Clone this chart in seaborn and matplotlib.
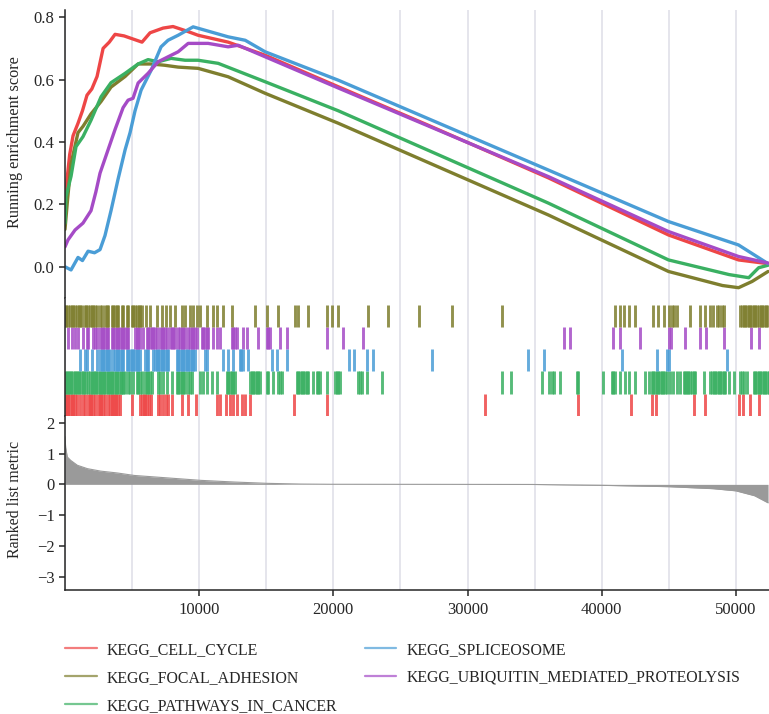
import numpy as np
import pandas as pd
import matplotlib
matplotlib.use("Agg")
import matplotlib.pyplot as plt
import seaborn as sns
from matplotlib.lines import Line2D
from matplotlib.ticker import MultipleLocator

# ~~~~~~~~~~~~~ data ~~~~~~~~~~~~~
gene_sets = ['KEGG_CELL_CYCLE', 'KEGG_FOCAL_ADHESION', 'KEGG_PATHWAYS_IN_CANCER',
             'KEGG_SPLICEOSOME', 'KEGG_UBIQUITIN_MEDIATED_PROTEOLYSIS']
set_colors = ['#EE4646', '#7E7E2E', '#3AB062', '#4A9DD6', '#A54BC6']

# running enrichment score, sampled along the ranked list
cell_cycle_rank = [0, 150, 350, 600, 970, 1300, 1640, 2000, 2390, 2840, 3300, 3730, 4400, 5070, 5740,
                   6340, 7310, 8050, 9100, 9920, 12160, 14920, 20370, 27000, 36030, 44980, 50200, 52400]
cell_cycle_es = [0.16, 0.28, 0.36, 0.42, 0.46, 0.50, 0.55, 0.57, 0.61, 0.70, 0.72, 0.745, 0.74, 0.73, 0.72,
                 0.75, 0.765, 0.77, 0.755, 0.742, 0.72, 0.678, 0.577, 0.455, 0.285, 0.102, 0.022, 0.01]

focal_rank = [0, 200, 450, 970, 1340, 1940, 2690, 3430, 4480, 5450, 6420, 7410, 8430, 9920, 12160,
              14920, 20370, 36030, 44980, 49000, 50200, 51210, 52400]
focal_es = [0.12, 0.22, 0.33, 0.43, 0.45, 0.49, 0.53, 0.576, 0.61, 0.65, 0.65, 0.646, 0.64, 0.636, 0.609,
            0.556, 0.46, 0.166, -0.015, -0.06, -0.067, -0.047, -0.015]

cancer_rank = [0, 70, 450, 820, 1340, 1940, 2690, 3430, 4480, 5450, 6190, 6940, 7900, 8950, 9920, 11420,
               14920, 20370, 36030, 44980, 49500, 50960, 51700, 52400]
cancer_es = [0.14, 0.225, 0.29, 0.385, 0.417, 0.47, 0.545, 0.59, 0.62, 0.65, 0.664, 0.657, 0.668, 0.662,
             0.662, 0.652, 0.593, 0.50, 0.204, 0.022, -0.025, -0.035, -0.003, 0.005]

splice_rank = [0, 450, 970, 1300, 1720, 2200, 2610, 2980, 3430, 3950, 4480, 4850, 5220, 5670, 6420, 7160,
               7680, 8430, 9550, 12160, 13430, 14920, 20370, 36030, 44980, 50200, 52400]
splice_es = [0.0, -0.01, 0.03, 0.02, 0.05, 0.045, 0.055, 0.10, 0.18, 0.28, 0.375, 0.43, 0.50, 0.566, 0.63,
             0.705, 0.726, 0.742, 0.769, 0.737, 0.726, 0.689, 0.598, 0.31, 0.145, 0.07, 0.01]

ubiq_rank = [0, 220, 750, 1340, 1940, 2300, 2610, 3210, 3730, 4330, 4700, 5070, 5450, 6190, 6940, 7680,
             8430, 9180, 10670, 12160, 12910, 14920, 20370, 36030, 44980, 50200, 52400]
ubiq_es = [0.064, 0.086, 0.118, 0.14, 0.18, 0.24, 0.30, 0.375, 0.44, 0.51, 0.534, 0.54, 0.589, 0.62, 0.657,
           0.673, 0.689, 0.716, 0.716, 0.705, 0.71, 0.673, 0.573, 0.289, 0.113, 0.033, 0.012]

# positions of gene set members in the ranked list
cell_cycle_hits = [30, 150, 260, 380, 500, 620, 740, 860, 1100, 1360, 1480, 1730, 1850, 1970, 2090, 2210,
                   2480, 2600, 2720, 2840, 2960, 3230, 3350, 3470, 3590, 3710, 3830, 3950, 4070, 5000, 5600,
                   5730, 5860, 5990, 6120, 6250, 6400, 6900, 7100, 7300, 7500, 7700, 8000, 8700, 9200, 9800,
                   11300, 11550, 12000, 12300, 12550, 12800, 13200, 13450, 13800, 17100, 19500, 31300, 38250,
                   42200, 43750, 44050, 46850, 47700, 50250, 50550, 51050, 51750]
focal_hits = [0, 100, 230, 360, 490, 620, 750, 880, 1010, 1140, 1260, 1480, 1600, 1730, 1860, 1990, 2120,
              2250, 2370, 2600, 2730, 2980, 3100, 3230, 3480, 3600, 3730, 3850, 3980, 4230, 4350, 4600, 4720,
              4970, 5100, 5230, 5350, 5480, 5600, 5720, 6040, 6340, 6890, 7210, 7530, 7830, 8200, 8700, 8950,
              9320, 9570, 9820, 10060, 10560, 11060, 11310, 11800, 12430, 14170, 15040, 15900, 17150, 17400,
              18140, 19510, 19880, 20380, 22620, 24110, 26360, 28830, 32600, 41000, 41380, 41670, 42070,
              42520, 43860, 44230, 44610, 44980, 45230, 45400, 45600, 46590, 47340, 47710, 48040, 48330,
              48580, 48780, 48960, 49080, 50320, 50450, 50580, 50700, 50830, 50960, 51080, 51210, 51340,
              51460, 51590, 51720, 51840, 51970, 52100, 52220, 52350]
cancer_hits = [0, 120, 240, 360, 480, 600, 720, 840, 960, 1080, 1200, 1320, 1440, 1560, 1680, 1860, 1980,
               2100, 2220, 2340, 2460, 2580, 2700, 2820, 2940, 3060, 3180, 3300, 3420, 3540, 3660, 3780,
               3900, 4020, 4140, 4260, 4350, 4473, 4720, 4850, 5090, 5340, 5470, 5590, 5710, 5960, 6090,
               6210, 6340, 6460, 6960, 7080, 7330, 7580, 7950, 8320, 8450, 8570, 8700, 8820, 8950, 9200,
               9320, 9440, 10060, 10310, 10560, 10930, 11300, 12050, 12180, 12300, 12430, 12550, 12670,
               13790, 13920, 14040, 14170, 14290, 14410, 14540, 15040, 15160, 15530, 15900, 16030, 16150,
               17270, 17400, 17520, 17650, 17770, 17890, 18020, 18140, 18520, 18760, 18890, 19010, 19510,
               20130, 20250, 20380, 20500, 21870, 22000, 22120, 22490, 23610, 32600, 33250, 35530, 36080,
               36280, 36450, 36900, 38140, 38260, 40130, 40750, 40880, 41000, 41370, 41750, 42000, 42490,
               43240, 43490, 43730, 43860, 43980, 44110, 44230, 44360, 44480, 44600, 44730, 44850, 45100,
               45350, 45600, 45850, 46100, 46220, 46350, 46470, 46600, 46720, 46850, 46970, 47590, 48090,
               48220, 48340, 48460, 48590, 48710, 48840, 48960, 49080, 49200, 49460, 49830, 50320, 50450,
               50570, 50820, 51320, 51450, 51570, 51700, 51820, 51950, 52070, 52200, 52320, 52440]
splice_hits = [1120, 1490, 1620, 1990, 2360, 2610, 2730, 2860, 2980, 3110, 3230, 3360, 3600, 3730, 3850,
               3980, 4100, 4230, 4350, 4600, 4720, 4850, 4970, 5100, 5220, 5340, 5470, 5590, 5970, 6090,
               6210, 6590, 6710, 6830, 6960, 7080, 7200, 7330, 7450, 7580, 7700, 8320, 8450, 8570, 8700,
               8820, 8950, 9070, 9200, 9320, 9450, 9570, 9690, 10440, 10560, 11800, 12180, 12550, 13050,
               13150, 13250, 13670, 15410, 15780, 16530, 21200, 21570, 22490, 22940, 27380, 34540, 35730,
               41550, 44110, 44860, 44980, 49330]
ubiq_hits = [250, 500, 750, 990, 1370, 1620, 1740, 2110, 2230, 2360, 2600, 2730, 2860, 2980, 3110, 3230,
             3480, 3600, 3730, 3850, 3980, 4100, 4230, 4350, 4470, 4600, 4720, 5220, 5340, 5470, 5590, 5840,
             6090, 6220, 6340, 6470, 6590, 6710, 6830, 7080, 7200, 7330, 7450, 7580, 7830, 7950, 8080, 8200,
             8450, 8570, 8700, 8820, 8950, 9200, 9320, 9450, 9570, 9690, 9820, 10190, 10310, 10440, 10560,
             10690, 11060, 11300, 11550, 12420, 12550, 12670, 12800, 13290, 13540, 14410, 15040, 15160,
             15280, 16030, 16530, 19510, 20750, 22190, 37200, 37640, 40880, 41370, 42860, 45050, 45150,
             46220, 47340, 47790, 49130, 51120, 51740]

# ranked list metric
metric_rank = [0, 50, 170, 420, 920, 1670, 2660, 3900, 5150, 7640, 10120, 12610, 15100, 17590, 19800,
               28000, 34800, 39900, 45000, 48300, 50000, 51400, 52400]
metric_value = [1.55, 1.2, 0.89, 0.78, 0.62, 0.51, 0.43, 0.37, 0.29, 0.21, 0.13, 0.076, 0.033, 0.01, 0.003,
                0.0, -0.003, -0.03, -0.075, -0.14, -0.21, -0.37, -0.6]

rank_ticks = [10000, 20000, 30000, 40000, 50000]
es_ticks = [0.0, 0.2, 0.4, 0.6, 0.8]
metric_ticks = [-3, -2, -1, 0, 1, 2]
n_genes = 52470

# ~~~~~~~~~~~~~ plotting ~~~~~~~~~~~~~
sns.set_style("ticks")
plt.rcParams['font.family'] = ['Liberation Serif', 'DejaVu Serif']
plt.rcParams['axes.linewidth'] = 1.1

es_df = pd.concat([
    pd.DataFrame({'rank': r, 'es': e, 'gene_set': g})
    for r, e, g in zip([cell_cycle_rank, focal_rank, cancer_rank, splice_rank, ubiq_rank],
                       [cell_cycle_es, focal_es, cancer_es, splice_es, ubiq_es], gene_sets)
])
hits = dict(zip(gene_sets, [cell_cycle_hits, focal_hits, cancer_hits, splice_hits, ubiq_hits]))
palette = dict(zip(gene_sets, set_colors))

W, H = 769, 714
fig = plt.figure(figsize=(W / 100, H / 100), dpi=100)


def box(left, top, right, bottom):
    return [left / W, 1 - bottom / H, (right - left) / W, (bottom - top) / H]


ax_es = fig.add_axes(box(65, 10, 769, 298))
ax_hit = fig.add_axes(box(65, 298, 769, 416))
ax_rank = fig.add_axes(box(65, 416, 769, 590))

for ax in (ax_es, ax_hit, ax_rank):
    ax.set_xlim(0, n_genes)
    ax.xaxis.set_minor_locator(MultipleLocator(5000))
    ax.grid(axis='x', which='both', color='#e3e3ea', lw=1.3, zorder=0)
    ax.set_axisbelow(True)
    sns.despine(ax=ax)
    ax.tick_params(axis='x', which='minor', length=0)
    ax.tick_params(labelsize=12, width=1.1, length=4)

# running enrichment score
sns.lineplot(data=es_df, x='rank', y='es', hue='gene_set', hue_order=gene_sets, palette=palette,
             estimator=None, sort=False, lw=2.4, legend=False, ax=ax_es)
ax_es.set_ylim(-0.1, 0.823)
ax_es.set_yticks(es_ticks)
ax_es.set_yticklabels(['{:.1f}'.format(t) for t in es_ticks])
ax_es.set_xticks(rank_ticks)
ax_es.tick_params(axis='x', which='both', length=0, labelbottom=False)
ax_es.spines['bottom'].set_visible(False)
ax_es.set_xlabel('')
ax_es.set_ylabel('Running enrichment score', fontsize=11.7)
ax_es.yaxis.set_label_coords(-0.06, 0.54)

# hit bars, focal adhesion on top, cell cycle at the bottom
row_order = ['KEGG_CELL_CYCLE', 'KEGG_PATHWAYS_IN_CANCER', 'KEGG_SPLICEOSOME',
             'KEGG_UBIQUITIN_MEDIATED_PROTEOLYSIS', 'KEGG_FOCAL_ADHESION']
for i, g in enumerate(row_order):
    ax_hit.vlines(hits[g], i, i + 1, color=palette[g], lw=2.1, alpha=0.85)
ax_hit.set_ylim(0, 5.3)
ax_hit.set_yticks([])
ax_hit.set_xticks(rank_ticks)
ax_hit.tick_params(axis='x', which='both', length=0, labelbottom=False)
ax_hit.spines['bottom'].set_visible(False)

# ranked list metric
ax_rank.fill_between(metric_rank, metric_value, 0, color='#9a9a9a', lw=0, zorder=2)
ax_rank.plot(metric_rank, metric_value, color='#9a9a9a', lw=0.8, zorder=2)
ax_rank.set_ylim(-3.43, 2.22)
ax_rank.set_yticks(metric_ticks)
ax_rank.set_xticks(rank_ticks)
ax_rank.set_xticklabels([str(t) for t in rank_ticks])
ax_rank.tick_params(axis='x', pad=5)
ax_rank.set_ylabel('Ranked list metric', fontsize=11.5)
ax_rank.yaxis.set_label_coords(-0.06, 0.52)

handles = [Line2D([], [], color=palette[g], lw=1.6, alpha=0.7) for g in gene_sets]
fig.legend(handles, gene_sets, loc='upper left', bbox_to_anchor=(65 / W, 1 - 642 / H), ncol=2,
           frameon=False, fontsize=11.4, handlelength=2.0, handletextpad=0.65, columnspacing=1.7,
           labelspacing=0.75, borderpad=0, borderaxespad=0)

fig.savefig('out.png', dpi=100)
